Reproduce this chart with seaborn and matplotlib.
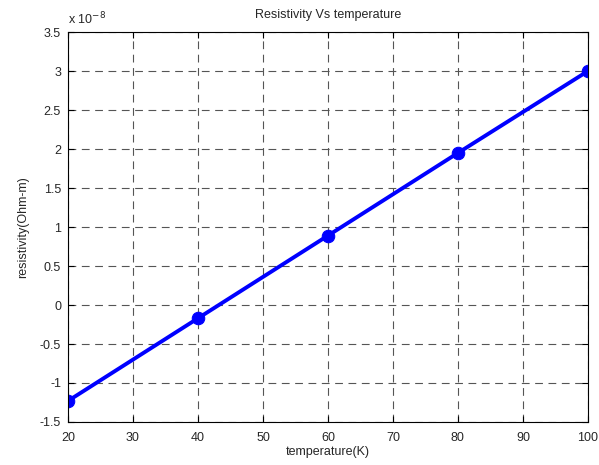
import numpy as np
import pandas as pd
import matplotlib
matplotlib.use("Agg")
import matplotlib.pyplot as plt
from matplotlib.ticker import FuncFormatter, MultipleLocator
import seaborn as sns

temperature = [20, 40, 60, 80, 100]
resistivity = np.array([-1.23, -0.17, 0.89, 1.95, 3.0]) * 1e-8

df = pd.DataFrame({"temperature": temperature, "resistivity": resistivity})

sns.set_style("ticks")
plt.rcParams["font.family"] = ["Liberation Sans", "DejaVu Sans"]

fig = plt.figure(figsize=(5.99, 4.65), dpi=100)
ax = fig.add_axes([0.1135, 0.0925, 0.868, 0.8385])

sns.lineplot(data=df, x="temperature", y="resistivity", ax=ax,
             color="#0000ff", linewidth=2.8, marker="o", markersize=9,
             markeredgecolor="#0000ff", markerfacecolor="#0000ff")

ax.set_xlim(20, 100)
ax.set_ylim(-1.5e-8, 3.5e-8)
ax.xaxis.set_major_locator(MultipleLocator(10))
ax.yaxis.set_major_locator(MultipleLocator(0.5e-8))
ax.yaxis.set_major_formatter(FuncFormatter(lambda v, p: f"{v / 1e-8:g}".replace("\u2212", "-")))

ax.grid(True, linestyle=(0, (7, 5)), color="#555555", linewidth=0.8)
ax.tick_params(direction="in", length=4, labelsize=9, color="black",
               top=True, right=True, width=0.8)
ax.tick_params(axis="x", pad=7)
ax.tick_params(axis="y", pad=5)
for s in ax.spines.values():
    s.set_linewidth(0.8)
    s.set_color("black")

ax.set_title("Resistivity Vs temperature", fontsize=9, pad=10)
ax.set_xlabel("temperature(K)", fontsize=9, labelpad=2)
ax.set_ylabel("resistivity(Ohm-m)", fontsize=9, labelpad=8)
ax.text(0.0, 1.012, "x 10$^{-8}$", transform=ax.transAxes, fontsize=9,
        ha="left", va="bottom")

fig.savefig("out.png", dpi=100)
